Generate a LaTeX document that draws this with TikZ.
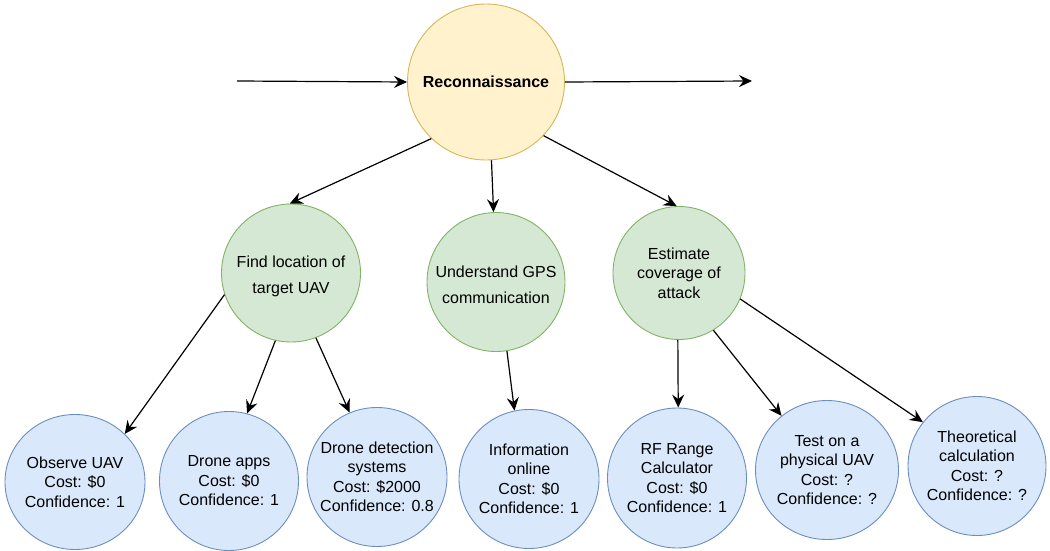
\documentclass[tikz,border=0pt]{standalone}
\usepackage{fontspec}
\setmainfont{Liberation Sans}
\usetikzlibrary{arrows.meta,shapes.geometric}

\definecolor{yelfill}{HTML}{FFF2CC}
\definecolor{yelline}{HTML}{D6B656}
\definecolor{grnfill}{HTML}{D5E8D4}
\definecolor{grnline}{HTML}{82B366}
\definecolor{blufill}{HTML}{DAE8FC}
\definecolor{bluline}{HTML}{6C8EBF}

% the caption sits in a centred label, so the ellipse keeps its given size
\tikzset{
  bubble/.style 2 args={ellipse, inner sep=0pt, line width=0.9pt,
    minimum width=#1, minimum height=#2},
  caption/.style={label={[align=center, inner sep=0pt,
    font=\fontsize{16}{19.5}\selectfont]center:#1}},
  lowcaption/.style={label={[align=center, inner sep=0pt, yshift=-3pt,
    font=\fontsize{16}{19.5}\selectfont]center:#1}},
  goal/.style={fill=yelfill, draw=yelline},
  task/.style={fill=grnfill, draw=grnline},
  leaf/.style={fill=blufill, draw=bluline},
  link/.style={line width=1.2pt, -{Stealth[length=13pt,width=12pt,inset=4.5pt]}}
}

\begin{document}
\begin{tikzpicture}[x=1pt,y=-1pt]
\useasboundingbox (0,0) rectangle (1050,551);

% top-level goal
\node[goal, bubble={157pt}{156pt}, caption={\bfseries Reconnaissance}] (rec) at (486,82) {};
\coordinate (inflow) at (237,81);
\coordinate (outflow) at (752,81);

% sub-goals
\node[task, bubble={139pt}{138pt},
  lowcaption={Find location of\\[6.5pt]target UAV}] (find) at (291,273) {};
\node[task, bubble={138pt}{139pt},
  lowcaption={Understand GPS\\[6.5pt]communication}] (gps) at (496,282) {};
\node[task, bubble={132pt}{133pt},
  caption={Estimate\\coverage of\\attack}] (cover) at (679,273) {};

% means, with cost and confidence
\node[leaf, bubble={140pt}{135pt},
  caption={Observe UAV\\Cost: \$0\\Confidence: 1}] (obs) at (75,482) {};
\node[leaf, bubble={139pt}{139pt},
  caption={Drone apps\\Cost: \$0\\Confidence: 1}] (apps) at (229,481) {};
\node[leaf, bubble={140pt}{139pt},
  caption={Drone detection\\systems\\Cost: \$2000\\Confidence: 0.8}] (detect) at (377,477) {};
\node[leaf, bubble={140pt}{139pt},
  caption={Information\\online\\Cost: \$0\\Confidence: 1}] (online) at (529,479) {};
\node[leaf, bubble={139pt}{140pt},
  caption={RF Range\\Calculator\\Cost: \$0\\Confidence: 1}] (rf) at (677,478) {};
\node[leaf, bubble={143pt}{139pt},
  caption={Test on a\\physical UAV\\Cost: ?\\Confidence: ?}] (test) at (827,470) {};
\node[leaf, bubble={138pt}{139pt},
  caption={Theoretical\\calculation\\Cost: ?\\Confidence: ?}] (theory) at (977,466) {};

% flow through the goal
\draw[link] (inflow) -- (rec.180);
\draw[link] (rec.0) -- (outflow);

% goal to sub-goals
\draw[link] (rec.-134) -- (find.91);
\draw[link] (rec.-86) -- (gps.92);
\draw[link] (rec.-43) -- (cover.92);

% sub-goals to means
\draw[link] (find.-162) -- (obs.44);
\draw[link] (find.-103) -- (apps.75);
\draw[link] (find.-69) -- (detect.113);
\draw[link] (gps.-81) -- (online.102);
\draw[link] (cover.-91) -- (rf.89);
\draw[link] (cover.-59) -- (test.130);
\draw[link] (cover.-23) -- (theory.141);
\end{tikzpicture}
\end{document}
